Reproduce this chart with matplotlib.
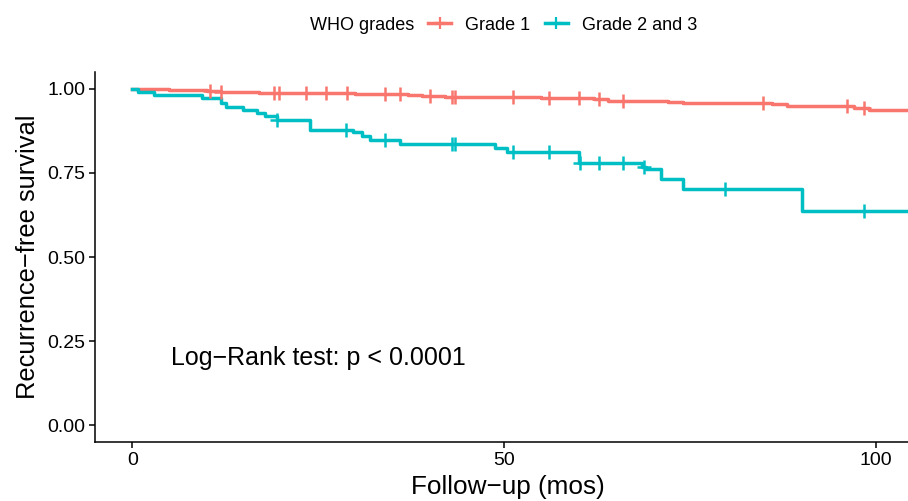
import numpy as np
import matplotlib
matplotlib.use("Agg")
import matplotlib.pyplot as plt
from matplotlib.lines import Line2D

plt.rcParams["font.family"] = ["Liberation Sans", "DejaVu Sans"]

# ── Kaplan-Meier step data ────────────────────────────────────────────────
GROUPS = ["Grade 1", "Grade 2 and 3"]
COLORS = ["#F8766D", "#00BFC4"]

g1_time = [0, 2, 5, 8, 10, 11, 12, 17, 20, 30, 33, 37, 39, 42, 47, 55, 62, 64, 72, 74, 86, 88, 97, 99]
g1_surv = [1.000, 0.999, 0.998, 0.996, 0.995, 0.993, 0.991, 0.989, 0.987, 0.986, 0.984, 0.982,
           0.979, 0.976, 0.975, 0.974, 0.970, 0.965, 0.961, 0.958, 0.955, 0.950, 0.944, 0.937]
g1_cens = [10.5, 12.0, 19.0, 19.7, 23.3, 26.0, 28.8, 34.0, 36.0, 40.0, 43.0, 43.4,
           51.2, 56.0, 60.0, 62.7, 66.0, 84.8, 96.0, 98.3]

g2_time = [0, 0.8, 2.9, 9.4, 12.0, 12.6, 14.9, 16.8, 17.9, 19.4, 23.9, 29.7, 30.9, 32.0,
           36.0, 48.8, 50.4, 60.0, 68.5, 69.0, 71.0, 74.0, 90.0]
g2_surv = [1.000, 0.992, 0.983, 0.972, 0.957, 0.947, 0.936, 0.928, 0.918, 0.908, 0.879, 0.871,
           0.861, 0.849, 0.837, 0.824, 0.811, 0.780, 0.768, 0.762, 0.732, 0.703, 0.637]
g2_cens = [19.5, 28.7, 34.0, 43.0, 43.4, 51.2, 56.0, 60.2, 62.7, 66.0, 68.8, 79.6, 98.4]

MAX_FOLLOWUP = 105
PVAL_TEXT = "Log\u2212Rank test: p < 0.0001"


def surv_at(times, surv, t):
    idx = np.searchsorted(times, t, side="right") - 1
    return np.asarray(surv)[idx]


# ── Plot ──────────────────────────────────────────────────────────────────
fig = plt.figure(figsize=(9.08, 5.01), dpi=100)
ax = fig.add_axes([95 / 908, 58.7 / 501, 813 / 908, 370.3 / 501])

series = [(g1_time, g1_surv, g1_cens), (g2_time, g2_surv, g2_cens)]
for (t, s, c), col in zip(series, COLORS):
    tt = list(t) + [MAX_FOLLOWUP]
    ss = list(s) + [s[-1]]
    ax.step(tt, ss, where="post", color=col, lw=2.5, zorder=3)
    ax.plot(c, surv_at(t, s, c), ls="none", marker="+", ms=10, mew=1.8,
            color=col, zorder=4)

ax.text(5.16, 0.20, PVAL_TEXT, fontsize=18, ha="left", va="center")

ax.set_xlim(-5, 104.26)
ax.set_ylim(-0.05, 1.05)
ax.set_xticks([0, 50, 100])
ax.set_yticks([0, 0.25, 0.5, 0.75, 1.0])
ax.set_yticklabels(["0.00", "0.25", "0.50", "0.75", "1.00"])
ax.tick_params(labelsize=14, length=4, width=1.1, pad=3, color="black", labelcolor="black")
for side in ("top", "right"):
    ax.spines[side].set_visible(False)
for side in ("left", "bottom"):
    ax.spines[side].set_linewidth(1.1)

ax.set_xlabel("Follow\u2212up (mos)", fontsize=18.8, labelpad=4)
ax.xaxis.label.set_x(0.508)
ax.set_ylabel("Recurrence\u2212free survival", fontsize=18.4, labelpad=5)

# legend across the top, ggplot style
fig.text(310 / 908, 1 - 25 / 501, "WHO grades", fontsize=13, ha="left", va="center")
handles = [Line2D([], [], color=col, lw=2.5, marker="+", ms=9, mew=1.6) for col in COLORS]
fig.legend(handles, GROUPS, loc="center left", bbox_to_anchor=(428 / 908, 1 - 25 / 501),
           ncol=2, frameon=False, fontsize=13, handlelength=1.3, handletextpad=0.75,
           columnspacing=0.8, borderaxespad=0, borderpad=0)

fig.savefig("out.png", dpi=100)
